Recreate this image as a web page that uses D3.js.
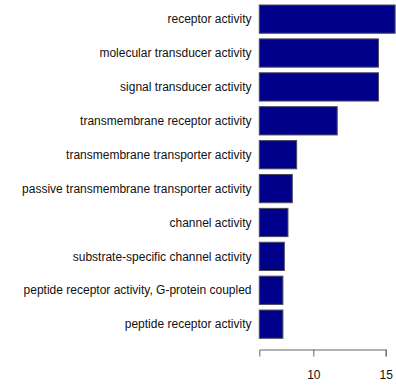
<!DOCTYPE html>
<html>
<head>
<meta charset="utf-8">
<script src="https://cdn.jsdelivr.net/npm/d3@7"></script>
<style>
  html, body { margin: 0; padding: 0; background: #fff; }
  svg { display: block; }
</style>
</head>
<body>
<svg id="chart" width="396" height="387"></svg>
<script>
// GO molecular-function terms and their enrichment scores
const categories = [
  "receptor activity",
  "molecular transducer activity",
  "signal transducer activity",
  "transmembrane receptor activity",
  "transmembrane transporter activity",
  "passive transmembrane transporter activity",
  "channel activity",
  "substrate-specific channel activity",
  "peptide receptor activity, G-protein coupled",
  "peptide receptor activity"
];
const scores = [15.65, 14.5, 14.5, 11.65, 8.85, 8.55, 8.25, 8.0, 7.9, 7.9];
const tickValues = [10, 15];
const axisMin = 6.27;

const svg = d3.select("#chart");

const x = d3.scaleLinear().domain([axisMin, 15]).range([259.3, 385.7]);
const y = d3.scaleBand()
  .domain(categories)
  .range([5, 338.3])
  .paddingInner(1 / 6)
  .paddingOuter(0);

// bars
svg.append("g")
  .selectAll("rect")
  .data(categories)
  .join("rect")
  .attr("x", x(axisMin))
  .attr("y", d => y(d))
  .attr("width", (d, i) => x(scores[i]) - x(axisMin))
  .attr("height", y.bandwidth())
  .attr("fill", "#00008B")
  .attr("stroke", "#4a4a5a")
  .attr("stroke-width", 1);

// category labels
svg.append("g")
  .selectAll("text")
  .data(categories)
  .join("text")
  .attr("x", 251.5)
  .attr("y", d => y(d) + y.bandwidth() / 2)
  .attr("dy", "0.35em")
  .attr("text-anchor", "end")
  .attr("font-family", "Liberation Sans, Arial, sans-serif")
  .attr("font-size", 12)
  .attr("fill", "#111")
  .text(d => d);

// value axis
const axis = svg.append("g")
  .attr("transform", "translate(0,349.5)")
  .call(d3.axisBottom(x).tickValues(tickValues).tickSizeOuter(0).tickSize(7).tickPadding(14));
axis.select(".domain").attr("stroke", "#666");
axis.selectAll(".tick line").attr("stroke", "#666");
axis.selectAll(".tick text")
  .attr("font-family", "Liberation Sans, Arial, sans-serif")
  .attr("font-size", 12)
  .attr("fill", "#111");
</script>
</body>
</html>
